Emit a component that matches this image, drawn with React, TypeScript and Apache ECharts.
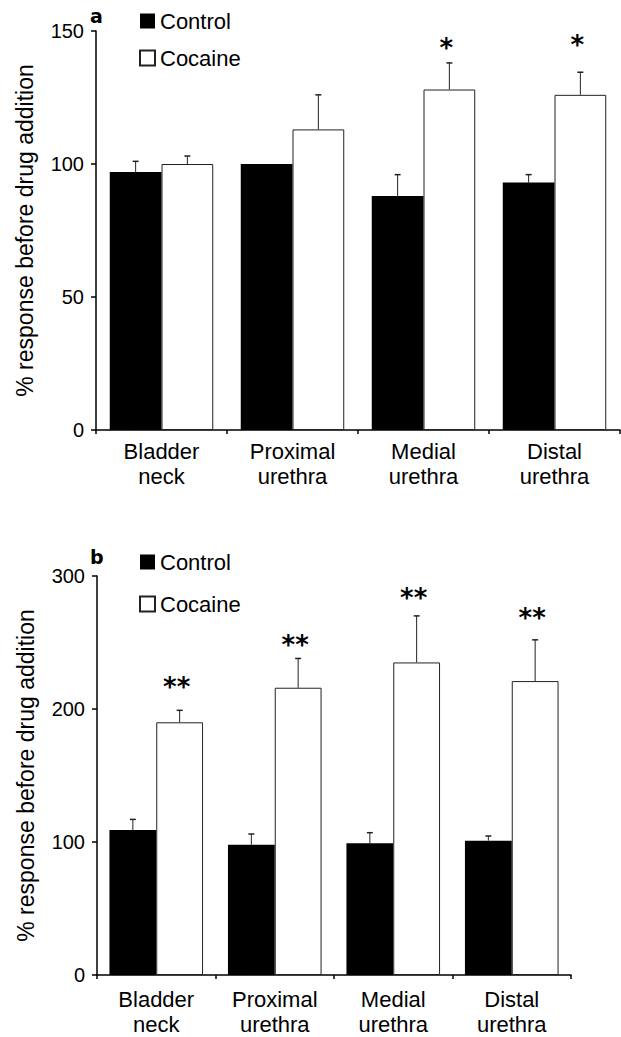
import React, { useEffect, useRef } from 'react';
import * as echarts from 'echarts';

// ---------- data ----------
const categories = ['Bladder\nneck', 'Proximal\nurethra', 'Medial\nurethra', 'Distal\nurethra'];
const seriesNames = ['Control', 'Cocaine'];

// panel a
const controlA = [97, 100, 88, 93];
const controlErrA = [4, 0, 8, 3];
const cocaineA = [100, 113, 128, 126];
const cocaineErrA = [3, 13, 10, 8.5];
const sigA = ['', '', '*', '*'];
const sigLevelA = [0, 0, 146, 147];
const yTicksA = { min: 0, max: 150, interval: 50 };

// panel b
const controlB = [109, 98, 99, 101];
const controlErrB = [8, 8, 8, 3.5];
const cocaineB = [190, 216, 235, 221];
const cocaineErrB = [9, 22, 35, 31];
const sigB = ['**', '**', '**', '**'];
const sigLevelB = [221, 253, 288, 273];
const yTicksB = { min: 0, max: 300, interval: 100 };

const yName = '% response before drug addition';
const FONT = '"Liberation Sans", Arial, sans-serif';
const CAT_GAP = 0.21;

function errorSeries(idx: number, means: number[], errs: number[], side: number) {
  return {
    type: 'custom',
    xAxisIndex: idx,
    yAxisIndex: idx,
    z: 5,
    silent: true,
    data: means.map((m, i) => [i, m, errs[i]]),
    renderItem: (params: any, api: any) => {
      const cat = api.value(0);
      const mean = api.value(1);
      const err = api.value(2);
      if (!err || err <= 0) return null;
      const catW = api.size([1, 0])[0];
      const barW = (catW * (1 - CAT_GAP)) / 2;
      const base = api.coord([cat, mean]);
      const top = api.coord([cat, mean + err]);
      const cx = base[0] + (side * barW) / 2;
      const capHalf = 3;
      return {
        type: 'group',
        children: [
          {
            type: 'line',
            shape: { x1: cx, y1: base[1], x2: cx, y2: top[1] },
            style: { stroke: '#222', lineWidth: 1 },
          },
          {
            type: 'line',
            shape: { x1: cx - capHalf, y1: top[1], x2: cx + capHalf, y2: top[1] },
            style: { stroke: '#222', lineWidth: 1.5 },
          },
        ],
      };
    },
  };
}

function starSeries(idx: number, levels: number[], sigs: string[]) {
  return {
    type: 'custom',
    xAxisIndex: idx,
    yAxisIndex: idx,
    z: 6,
    silent: true,
    data: levels.map((l, i) => [i, l]),
    renderItem: (params: any, api: any) => {
      const i = params.dataIndex;
      const text = sigs[i];
      if (!text) return null;
      const catW = api.size([1, 0])[0];
      const barW = (catW * (1 - CAT_GAP)) / 2;
      const p = api.coord([api.value(0), api.value(1)]);
      return {
        type: 'text',
        x: p[0] + barW / 2 - 3,
        y: p[1] + 6,
        style: {
          text,
          fill: '#000',
          font: 'bold 26px "DejaVu Sans", sans-serif',
          align: 'center',
          verticalAlign: 'middle',
        },
      };
    },
  };
}

function xAxis(idx: number) {
  return {
    type: 'category',
    gridIndex: idx,
    data: categories,
    axisLine: { lineStyle: { color: '#000', width: 1.5 } },
    axisTick: { show: true, alignWithLabel: false, length: 4, lineStyle: { color: '#000', width: 1.5 } },
    axisLabel: {
      interval: 0,
      color: '#000',
      fontFamily: FONT,
      fontSize: 22,
      lineHeight: 25,
      margin: idx === 0 ? 9 : 12,
    },
    splitLine: { show: false },
  };
}

function yAxis(idx: number, t: { min: number; max: number; interval: number }) {
  return {
    type: 'value',
    gridIndex: idx,
    min: t.min,
    max: t.max,
    interval: t.interval,
    name: yName,
    nameLocation: 'middle',
    nameGap: 60,
    nameTextStyle: { color: '#000', fontFamily: FONT, fontSize: 23 },
    axisLine: { show: true, lineStyle: { color: '#000', width: 1.5 } },
    axisTick: { show: true, length: 5, lineStyle: { color: '#000', width: 1.5 } },
    axisLabel: { color: '#000', fontFamily: FONT, fontSize: 20, margin: 12 },
    splitLine: { show: false },
  };
}

function barSeries(idx: number, name: string, values: number[], control: boolean) {
  return {
    type: 'bar',
    name,
    xAxisIndex: idx,
    yAxisIndex: idx,
    data: values,
    barGap: '0%',
    barCategoryGap: CAT_GAP * 100 + '%',
    itemStyle: control
      ? { color: '#000', borderColor: '#000', borderWidth: 0 }
      : { color: '#fff', borderColor: '#222', borderWidth: 1 },
  };
}

function legend(top: number, gap: number) {
  return {
    orient: 'vertical',
    left: 139,
    top,
    padding: 0,
    itemWidth: 15,
    itemHeight: 15,
    itemGap: gap,
    icon: 'rect',
    data: seriesNames,
    selectedMode: false,
    textStyle: { color: '#000', fontFamily: FONT, fontSize: 22, lineHeight: 16 },
  };
}

export default function App() {
  const ref = useRef<HTMLDivElement>(null);
  useEffect(() => {
    if (!ref.current) return;
    const chart = echarts.init(ref.current, null, { renderer: 'svg' });
    chart.setOption({
      animation: false,
      backgroundColor: '#fff',
      grid: [
        { left: 96, top: 31, right: 1, bottom: 607 },
        { left: 97, top: 576, right: 50, bottom: 59 },
      ],
      legend: [legend(10, 15), legend(551, 20)],
      xAxis: [xAxis(0), xAxis(1)],
      yAxis: [yAxis(0, yTicksA), yAxis(1, yTicksB)],
      graphic: [
        {
          type: 'text',
          left: 90,
          top: 6,
          style: { text: 'a', fill: '#000', font: 'bold 19px "DejaVu Sans", sans-serif' },
        },
        {
          type: 'text',
          left: 90,
          top: 547,
          style: { text: 'b', fill: '#000', font: 'bold 19px "DejaVu Sans", sans-serif' },
        },
      ],
      series: [
        barSeries(0, seriesNames[0], controlA, true),
        barSeries(0, seriesNames[1], cocaineA, false),
        barSeries(1, seriesNames[0], controlB, true),
        barSeries(1, seriesNames[1], cocaineB, false),
        errorSeries(0, controlA, controlErrA, -1),
        errorSeries(0, cocaineA, cocaineErrA, 1),
        errorSeries(1, controlB, controlErrB, -1),
        errorSeries(1, cocaineB, cocaineErrB, 1),
        starSeries(0, sigLevelA, sigA),
        starSeries(1, sigLevelB, sigB),
      ],
    });
    return () => chart.dispose();
  }, []);
  return (
    <div
      ref={ref}
      style={{ position: 'absolute', left: 0, top: 0, width: 621, height: 1037, background: '#fff' }}
    />
  );
}
